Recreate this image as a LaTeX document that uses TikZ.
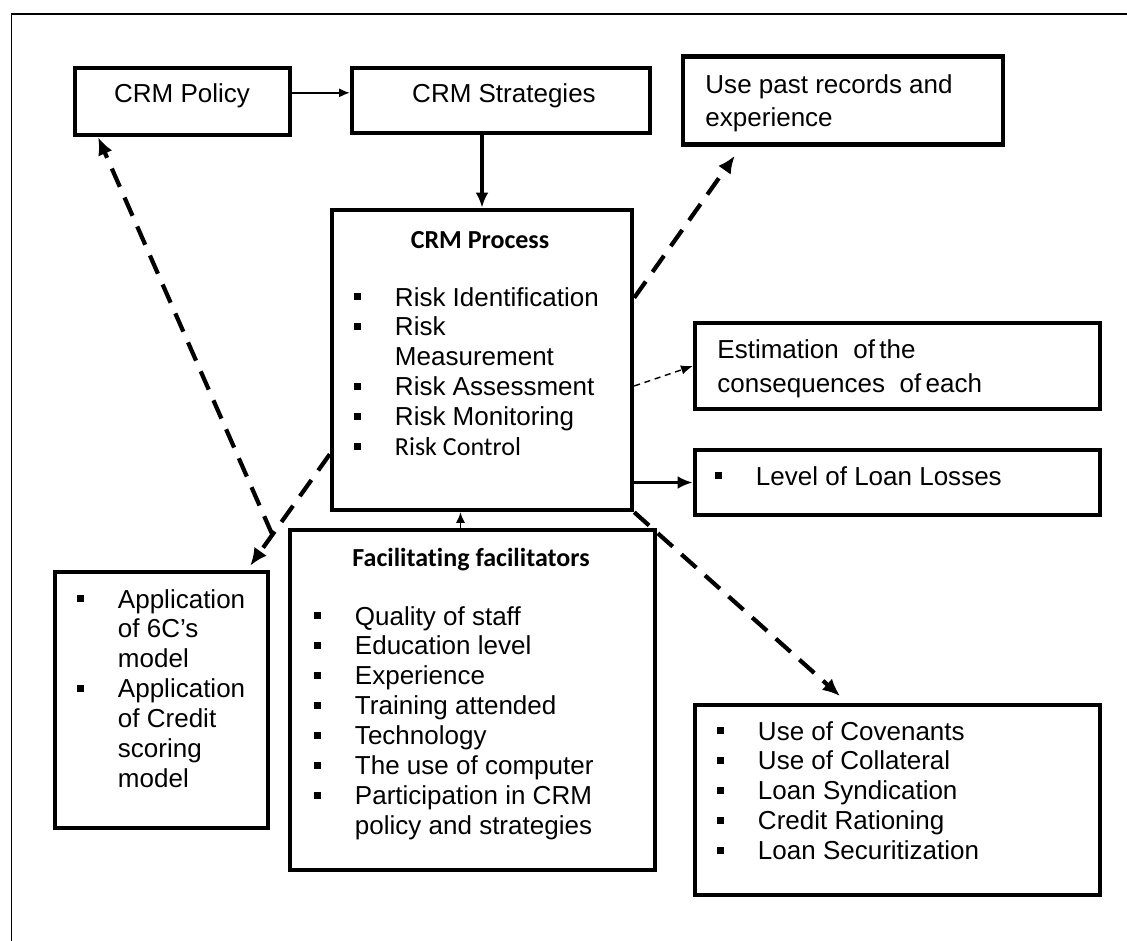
\documentclass[tikz,border=0pt]{standalone}
\usepackage{fontspec}
\setmainfont{Liberation Sans}
\newfontfamily\calibri[Ligatures=CommonOff]{Carlito}
\usetikzlibrary{arrows.meta}
\newcommand\sq{\rule[2.5pt]{3pt}{3pt}}
\newcommand\bulletlist[1]{\begin{tabular}[t]{@{}p{17.5pt}@{}l@{}}#1\end{tabular}}
\newcommand\plainlist[2]{\begin{tabular}[t]{@{}l@{}}#2\end{tabular}}

\begin{document}
\begin{tikzpicture}[x=1.5mm,y=1.5mm,
    box/.style={draw,line width=1.9pt},
    thinarr/.style={line width=0.6pt,-{Latex[length=4.5pt,width=3.8pt]}},
    solidarr/.style={line width=1.3pt,-{Latex[length=6.5pt,width=5.5pt]}},
    dasharr/.style={line width=1.8pt,dash pattern=on 8.5pt off 5pt,-{Latex[length=7.5pt,width=6.5pt]}},
    thindash/.style={line width=0.6pt,dash pattern=on 2.6pt off 2pt,-{Latex[length=5pt,width=4pt]}}]
            \tikzstyle{every node}+=[inner sep=0pt,font=\fontsize{11.1}{12.8}\selectfont]
            \useasboundingbox (0,0) rectangle (112.7,-94.1);
            \draw [line width=0.6pt] (112.7,-1.4) -| (1.15,-94.1);
            \node [box,minimum width=3.225cm,minimum height=1.005cm] (policy) at (18.25,-10.15) {};
            \node [anchor=base] (policytxt) at (18.2,-10.2) {CRM Policy};
            \node [box,minimum width=4.47cm,minimum height=0.975cm] (strategies) at (50.1,-10.05) {};
            \node [anchor=base] (strategiestxt) at (50.4,-10.2) {CRM Strategies};
            \node [box,minimum width=4.8cm,minimum height=1.32cm] (records) at (84.3,-10.05) {};
            \node [anchor=base west,font=\fontsize{11.1}{14.1}\selectfont] (recordstxt) at (70.5,-9.3)
                {\plainlist{}{Use past records and\\experience}};
            \node [box,minimum width=4.5cm,minimum height=4.5cm] (process) at (48.2,-36.0) {};
            \node [anchor=base,font=\fontsize{11.1}{12.8}\calibri\bfseries] (processtitle) at (48.0,-24.8) {CRM Process};
            \node [anchor=base west] (processlist) at (35.35,-30.6)
                {\bulletlist{\sq & Risk Identification\\ \sq & Risk\\ & Measurement\\ \sq & Risk Assessment\\
                 \sq & Risk Monitoring\\ \sq & {\calibri Risk Control}}};
            \node [box,minimum width=6.075cm,minimum height=1.29cm] (estim) at (89.75,-36.6) {};
            \node [anchor=base west,font=\fontsize{11.1}{14.9}\selectfont] (estimtxt) at (71.7,-35.8)
                {\plainlist{}{Estimation\ \ of\,the\\consequences\ \ of\,each}};
            \node [box,minimum width=6.075cm,minimum height=0.975cm] (losses) at (89.75,-48.25) {};
            \node [anchor=base west] (lossestxt) at (71.45,-48.5) {\bulletlist{\sq & Level of Loan Losses}};
            \node [box,minimum width=3.195cm,minimum height=3.84cm] (app) at (16.15,-70.0) {};
            \node [anchor=base west] (applist) at (7.65,-60.8)
                {\bulletlist{\sq & Application\\ & of 6C's\\ & model\\ \sq & Application\\ & of Credit\\ & scoring\\ & model}};
            \node [box,minimum width=5.475cm,minimum height=5.1cm] (facil) at (47.25,-70.0) {};
            \node [anchor=base,font=\fontsize{11.1}{12.8}\calibri\bfseries] (faciltitle) at (47.1,-56.6) {Facilitating facilitators};
            \node [anchor=base west] (facillist) at (31.35,-62.5)
                {\bulletlist{\sq & Quality of staff\\ \sq & Education level\\ \sq & Experience\\ \sq & Training attended\\
                 \sq & Technology\\ \sq & The use of computer\\ \sq & Participation in CRM\\ & policy and strategies}};
            \node [box,minimum width=6.075cm,minimum height=2.85cm] (cov) at (89.75,-80.0) {};
            \node [anchor=base west] (covlist) at (71.65,-74.0)
                {\bulletlist{\sq & Use of Covenants\\ \sq & Use of Collateral\\ \sq & Loan Syndication\\
                 \sq & Credit Rationing\\ \sq & Loan Securitization}};
            \draw [thinarr] ([yshift=1.3mm]policy.east) -- ([yshift=1.3mm]policy.east -| strategies.west);
            \draw [solidarr] (strategies.south -| process.north) -- (process.north);
            \draw [dasharr] ([yshift=-13.5mm]process.north east) -- ([xshift=8.1mm,yshift=-1.35mm]records.south west);
            \draw [thindash] ([yshift=-3.9mm]process.east) -- (estim.west);
            \draw [solidarr] (losses.west -| process.east) -- (losses.west);
            \draw [dasharr] (process.south east) -- ([xshift=-8.6mm,yshift=1mm]cov.north);
            \draw [dasharr] ([yshift=8.7mm]process.south west) -- ([xshift=-3mm,yshift=0.6mm]app.north east);
            \draw [dasharr] ([xshift=0.3mm,yshift=5.3mm]app.north east) -- ([xshift=3.8mm]policy.south west);
            \draw [thinarr] ([xshift=-1.8mm]facil.north) -- ([xshift=-1.8mm]facil.north |- process.south);
        \end{tikzpicture}
\end{document}
